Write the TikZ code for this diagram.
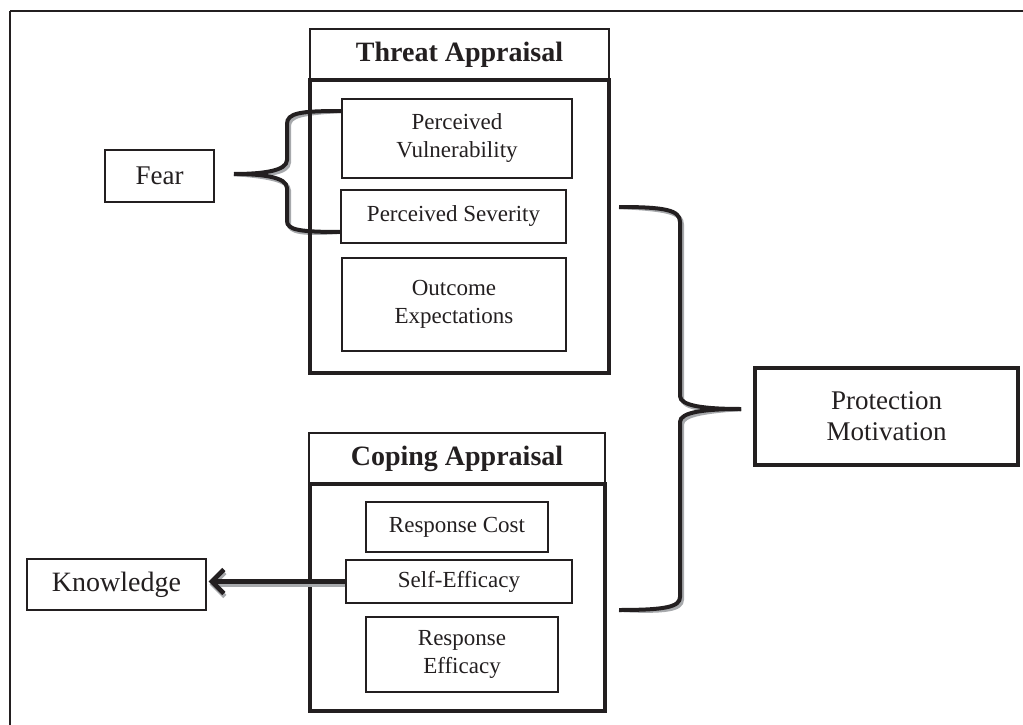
\documentclass[tikz,border=0pt]{standalone}
\usepackage{fontspec}
\setmainfont{Liberation Serif}
\usetikzlibrary{arrows.meta}
\definecolor{ink}{HTML}{231F20}
\definecolor{shade}{HTML}{A7A9AC}
\tikzset{
  thinbox/.style={draw=ink, line width=1.4pt, minimum width=#1, inner sep=0pt, align=center, text=ink},
  thickbox/.style={draw=ink, line width=3.4pt, inner sep=0pt},
  subtext/.style={font=\fontsize{23}{28}\selectfont},
  headtext/.style={font=\fontsize{28}{32}\selectfont\bfseries},
  bracel/.style={draw=ink, line width=4pt},
  braceshadow/.style={draw=shade, line width=4pt},
  arrowtip/.style={-{Straight Barb[length=12pt,width=24pt,line width=4.5pt]}},
}
\begin{document}
\begin{tikzpicture}[x=1pt,y=-1pt]
\useasboundingbox (0,0) rectangle (1023,725);
% outer frame
\draw[ink, line width=2pt] (10,725) -- (10,11);
\draw[ink, line width=1.4pt] (10,11) -- (1023,11);

% brace coordinates
\coordinate (fa) at (341,111);
\coordinate (fb) at (341,232);
\coordinate (ft) at (234,174);
\coordinate (ra) at (619,207);
\coordinate (rb) at (619,610);
\coordinate (rt) at (741,409);

% brace shadows
\begin{scope}[shift={(2,2.5)}]
\draw[braceshadow] (fa) .. controls (300,111) and (287,113) .. (287,124) -- (287,160)
  .. controls (287,171) and (262,174) .. (ft);
\draw[braceshadow] (ft) .. controls (262,174) and (287,177) .. (287,188) -- (287,221)
  .. controls (287,230) and (300,232) .. (fb);
\draw[braceshadow] (ra) .. controls (665,207) and (680,210) .. (680,222) -- (680,396)
  .. controls (680,406) and (705,409) .. (rt);
\draw[braceshadow] (rt) .. controls (705,409) and (680,412) .. (680,422) -- (680,597)
  .. controls (680,607) and (665,610) .. (rb);
\end{scope}
% braces
\draw[bracel] (fa) .. controls (300,111) and (287,113) .. (287,124) -- (287,160)
  .. controls (287,171) and (262,174) .. (ft);
\draw[bracel] (ft) .. controls (262,174) and (287,177) .. (287,188) -- (287,221)
  .. controls (287,230) and (300,232) .. (fb);
\draw[bracel] (ra) .. controls (665,207) and (680,210) .. (680,222) -- (680,396)
  .. controls (680,406) and (705,409) .. (rt);
\draw[bracel] (rt) .. controls (705,409) and (680,412) .. (680,422) -- (680,597)
  .. controls (680,607) and (665,610) .. (rb);

% Threat appraisal
\node[thinbox=299pt, minimum height=51pt, headtext] (th) at (459.5,54.5) {Threat Appraisal};
\node[thickbox, minimum width=299pt, minimum height=293pt] (tb) at (459.5,226.5) {};
\node[thinbox=230pt, minimum height=79pt, subtext] (pv) at (457,138.5) {Perceived\\Vulnerability};
\node[thinbox=225pt, minimum height=53pt, subtext] (ps) at (453.5,216.5) {Perceived Severity};
\node[thinbox=224pt, minimum height=93pt, subtext] (oe) at (454,304.5) {Outcome\\Expectations};

% Fear
\node[thinbox=109pt, minimum height=52pt, font=\fontsize{27}{31}\selectfont] (fear) at (159.5,176) {Fear};

% Protection Motivation
\node[thickbox, minimum width=263pt, minimum height=97pt, align=center, text=ink, font=\fontsize{27}{31}\selectfont] (pm) at (886.5,416.5) {Protection\\Motivation};

% Coping appraisal
\node[thinbox=296pt, minimum height=51pt, headtext] (ch) at (457,458.5) {Coping Appraisal};
\node[thickbox, minimum width=295pt, minimum height=227pt] (cb) at (457.5,597.5) {};
\node[thinbox=182pt, minimum height=50pt, subtext] (rc) at (457,527) {Response Cost};
\node[thinbox=226pt, minimum height=43pt, subtext] (se) at (459,581.5) {Self-Efficacy};
\node[thinbox=192pt, minimum height=75pt, subtext] (re) at (462,654.5) {Response\\Efficacy};

% Knowledge
\node[thinbox=179pt, minimum height=51pt, font=\fontsize{28}{32}\selectfont] (kn) at (116.5,584.5) {Knowledge};

% arrow
\draw[draw=shade, line width=4.5pt, arrowtip]
  ([shift={(0,3)}]se.west) -- ([shift={(3,3)}]se.west -| kn.east);
\draw[draw=ink, line width=4.5pt, arrowtip]
  (se.west) -- ([xshift=2pt]se.west -| kn.east);
\end{tikzpicture}
\end{document}
